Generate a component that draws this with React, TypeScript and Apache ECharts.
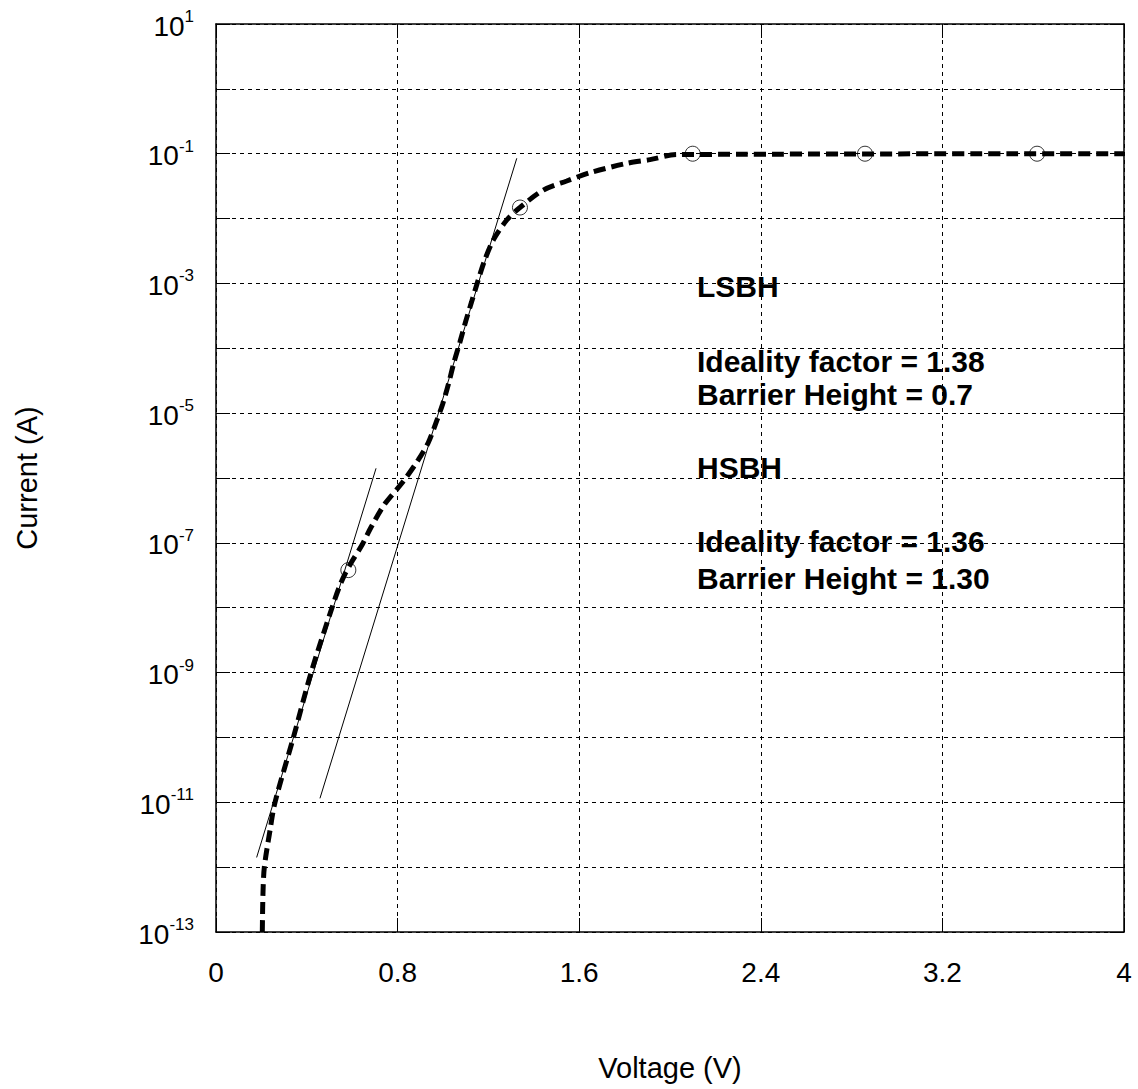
import React, { useEffect, useRef } from "react";
import * as echarts from "echarts";

// Measured I-V curve (Voltage in V, Current in A)
const voltage = [0.204, 0.207, 0.213, 0.238, 0.26, 0.341, 0.419, 0.511, 0.542, 0.568, 0.598, 0.645, 0.683, 0.744, 0.821, 0.891, 0.935, 0.969, 0.999, 1.025, 1.048, 1.075, 1.1, 1.126, 1.153, 1.182, 1.222, 1.281, 1.339, 1.442, 1.545, 1.648, 1.809, 1.912, 2.03, 4.0];
const current = [1.0e-13, 4.0e-13, 1.0e-12, 3.7e-12, 1.0e-11, 1.0e-10, 1.0e-9, 1.0e-8, 2.04e-8, 3.3e-8, 5.1e-8, 9.5e-8, 1.74e-7, 4.0e-7, 8.5e-7, 1.9e-6, 3.5e-6, 7.1e-6, 1.4e-5, 2.9e-5, 6.0e-5, 1.26e-4, 2.6e-4, 5.2e-4, 1.07e-3, 2.2e-3, 4.7e-3, 9.5e-3, 1.48e-2, 2.75e-2, 3.8e-2, 5.1e-2, 7.1e-2, 8.1e-2, 9.7e-2, 0.1];

// Circle markers
const markerVoltage = [0.583, 1.339, 2.1, 2.859, 3.617];
const markerCurrent = [3.8e-8, 1.48e-2, 0.1, 0.1, 0.1];

// Thin fit lines (LSBH and HSBH)
const fit1Voltage = [0.179, 0.705];
const fit1Current = [1.41e-12, 1.41e-6];
const fit2Voltage = [0.458, 1.325];
const fit2Current = [1.15e-11, 8.5e-2];

// Axes
const xTicks = [0, 0.8, 1.6, 2.4, 3.2, 4];
const yLabelExponents = [-13, -11, -9, -7, -5, -3, -1, 1];

// Annotations
const annotationLines = [
  "LSBH",
  "Ideality factor = 1.38",
  "Barrier Height = 0.7",
  "HSBH",
  "Ideality factor = 1.36",
  "Barrier Height = 1.30",
];

const FONT = '"Liberation Sans", Arial, Helvetica, sans-serif';

const toPts = (v: number[], c: number[]) => v.map((x, i) => [x, Math.log10(c[i])]);

export default function App() {
  const ref = useRef<HTMLDivElement>(null);
  useEffect(() => {
    if (!ref.current) return;
    const chart = echarts.init(ref.current, undefined, { renderer: "svg" });
    const gridLine = { show: true, lineStyle: { color: "#000", width: 1, type: [4, 4] as any } };
    const annotY = [286, 361, 394, 467, 541, 578];
    chart.setOption({
      animation: false,
      backgroundColor: "#fff",
      grid: { left: 216, top: 24, right: 14, bottom: 157, containLabel: false },
      xAxis: [
        {
          type: "value",
          min: xTicks[0],
          max: xTicks[xTicks.length - 1],
          interval: 0.8,
          name: "Voltage (V)",
          nameLocation: "middle",
          nameGap: 121,
          nameTextStyle: { fontFamily: FONT, fontSize: 29, color: "#000" },
          axisLine: { show: true, onZero: false, lineStyle: { color: "#000", width: 1.5 } },
          axisTick: { show: true, inside: true, length: 14, lineStyle: { color: "#000" } },
          axisLabel: {
            fontFamily: FONT,
            fontSize: 28,
            color: "#000",
            margin: 26,
            formatter: (v: number) => {
              const t = xTicks.find((k) => Math.abs(k - v) < 1e-6);
              return t === undefined ? "" : String(t);
            },
          },
          splitLine: gridLine,
        },
        {
          type: "value",
          position: "top",
          min: 0,
          max: 4,
          interval: 0.8,
          axisLine: { show: true, onZero: false, lineStyle: { color: "#000", width: 1.5 } },
          axisTick: { show: true, inside: true, length: 14, lineStyle: { color: "#000" } },
          axisLabel: { show: false },
          splitLine: { show: false },
        },
      ],
      yAxis: [
        {
          type: "value",
          min: -13,
          max: 1,
          interval: 1,
          name: "Current (A)",
          nameLocation: "middle",
          nameGap: 175,
          nameRotate: 90,
          nameTextStyle: { fontFamily: FONT, fontSize: 29, color: "#000" },
          axisLine: { show: true, onZero: false, lineStyle: { color: "#000", width: 1.5 } },
          axisTick: { show: true, inside: true, length: 14, lineStyle: { color: "#000" } },
          axisLabel: {
            margin: 22,
            color: "#000",
            formatter: (v: number) => {
              const e = Math.round(v);
              return yLabelExponents.includes(e) ? `{b|10}{s|${e}}` : "";
            },
            rich: {
              b: { fontFamily: FONT, fontSize: 28, lineHeight: 32, color: "#000", verticalAlign: "bottom" },
              s: { fontFamily: FONT, fontSize: 17, lineHeight: 17, color: "#000", verticalAlign: "top" },
            },
          },
          splitLine: gridLine,
        },
        {
          type: "value",
          position: "right",
          min: -13,
          max: 1,
          interval: 1,
          axisLine: { show: true, onZero: false, lineStyle: { color: "#000", width: 1.5 } },
          axisTick: { show: true, inside: true, length: 14, lineStyle: { color: "#000" } },
          axisLabel: { show: false },
          splitLine: { show: false },
        },
      ],
      series: [
        {
          type: "line",
          data: toPts(fit1Voltage, fit1Current),
          symbol: "none",
          lineStyle: { color: "#000", width: 1 },
          z: 2,
        },
        {
          type: "line",
          data: toPts(fit2Voltage, fit2Current),
          symbol: "none",
          lineStyle: { color: "#000", width: 1 },
          z: 2,
        },
        {
          type: "line",
          data: toPts(voltage, current),
          symbol: "none",
          smooth: 0.3,
          lineStyle: { color: "#000", width: 5, type: [12, 6] as any, cap: "butt" },
          z: 3,
        },
        {
          type: "scatter",
          data: toPts(markerVoltage, markerCurrent),
          symbol: "circle",
          symbolSize: 15,
          itemStyle: { color: "rgba(0,0,0,0)", borderColor: "#000", borderWidth: 1 },
          z: 4,
        },
      ],
      graphic: annotationLines.map((t, i) => ({
        type: "text",
        x: 697,
        y: annotY[i],
        z: 10,
        style: {
          text: t,
          fontFamily: FONT,
          fontSize: 30,
          fontWeight: "bold",
          fill: "#000",
          verticalAlign: "middle",
          align: "left",
        },
      })),
    });
    return () => chart.dispose();
  }, []);
  return (
    <div
      ref={ref}
      style={{ position: "fixed", left: 0, top: 0, width: 1138, height: 1089, background: "#fff" }}
    />
  );
}
